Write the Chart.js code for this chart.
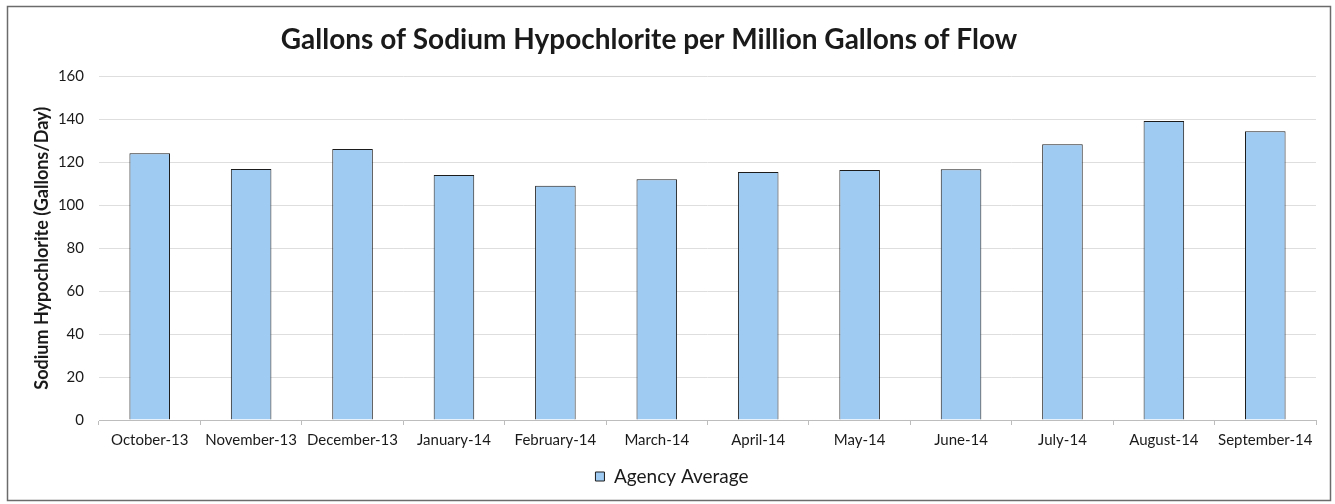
<!DOCTYPE html>
<html>
<head>
<meta charset="utf-8">
<script src="https://cdn.jsdelivr.net/npm/chart.js@4"></script>
<style>
  html, body { margin: 0; padding: 0; background: #fff; }
  #wrap { position: relative; width: 1335px; height: 504px; }
</style>
</head>
<body>
<div id="wrap"><canvas id="c" width="1335" height="504"></canvas></div>
<script>
// Monthly agency average, gallons of sodium hypochlorite per million gallons of flow
const months = ['October-13', 'November-13', 'December-13', 'January-14', 'February-14', 'March-14',
                'April-14', 'May-14', 'June-14', 'July-14', 'August-14', 'September-14'];
const agencyAverage = [124.3, 117, 126.3, 114.2, 109.2, 112.2, 115.6, 116.5, 116.8, 128.5, 139.3, 134.5];
const yTicks = [0, 20, 40, 60, 80, 100, 120, 140, 160];

const FONT = 'Lato, "Open Sans", sans-serif';

// Outer frame around the whole chart area
const framePlugin = {
  id: 'frame',
  afterDraw(chart) {
    const ctx = chart.ctx;
    ctx.save();
    ctx.strokeStyle = '#6b6b6b';
    ctx.lineWidth = 1.5;
    ctx.strokeRect(7.5, 6.5, 1323, 494);
    ctx.restore();
  }
};

// Nudge the title a little left and the legend a little right of the default centring
const nudgePlugin = {
  id: 'nudge',
  afterLayout(chart) {
    if (chart.titleBlock) chart.titleBlock.right -= 18;
    if (chart.legend) { chart.legend.left += 14; chart.legend.right += 14; }
  }
};

new Chart(document.getElementById('c'), {
  type: 'bar',
  data: {
    labels: months,
    datasets: [{
      label: 'Agency Average',
      data: agencyAverage,
      backgroundColor: '#9fcbf3',
      borderColor: '#1c1c1c',
      borderWidth: 1,
      barPercentage: 0.8,
      categoryPercentage: 0.5
    }]
  },
  options: {
    responsive: false,
    animation: false,
    layout: { padding: { left: 0, right: 19, top: 10, bottom: 8 } },
    plugins: {
      title: {
        display: true,
        text: 'Gallons of Sodium Hypochlorite per Million Gallons of Flow',
        color: '#1a1a1a',
        font: { family: FONT, size: 28, weight: 'bold' },
        padding: { top: 13.4, bottom: 19.6 }
      },
      legend: {
        position: 'bottom',
        labels: {
          color: '#1a1a1a',
          font: { family: FONT, size: 19 },
          boxWidth: 9,
          boxHeight: 9,
          padding: 16
        }
      },
      tooltip: { enabled: false }
    },
    scales: {
      x: {
        afterFit(axis) { axis.height = 31; },
        grid: { display: true, drawOnChartArea: false, color: '#bdbdbd', tickLength: 5, offset: true },
        border: { color: '#bdbdbd' },
        ticks: { color: '#1a1a1a', font: { family: FONT, size: 15 }, maxRotation: 0, autoSkip: false, padding: 6 }
      },
      y: {
        min: 0,
        max: 160,
        afterBuildTicks(axis) { axis.ticks = yTicks.map(v => ({ value: v })); },
        afterFit(axis) { axis.width = 99; },
        grid: { color: '#dedede', drawTicks: false },
        border: { display: false },
        ticks: { color: '#1a1a1a', font: { family: FONT, size: 15 }, padding: 15 },
        title: {
          display: true,
          text: 'Sodium Hypochlorite (Gallons/Day)',
          color: '#1a1a1a',
          font: { family: FONT, size: 18, weight: 'bold' },
          padding: { top: 31, bottom: 0 }
        }
      }
    }
  },
  plugins: [framePlugin, nudgePlugin]
});
</script>
</body>
</html>
